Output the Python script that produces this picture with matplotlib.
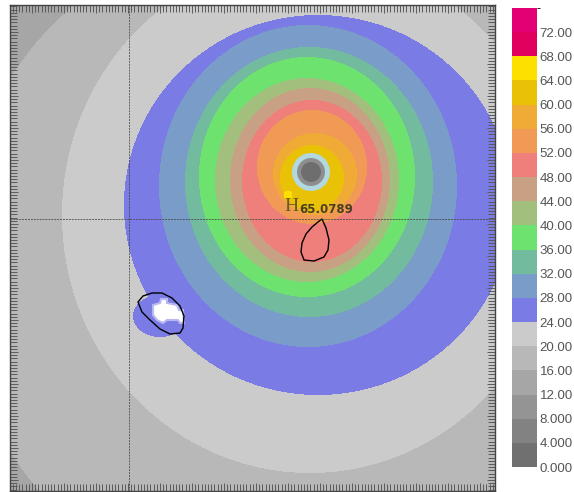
import numpy as np
import matplotlib
matplotlib.use('Agg')
import matplotlib.pyplot as plt
from matplotlib.colors import ListedColormap, BoundaryNorm
from matplotlib.cm import ScalarMappable
from matplotlib.patches import Circle, Polygon
from matplotlib.ticker import MultipleLocator

# colour scale: 4 dB steps from 0 to 76
levels = np.arange(0, 80, 4)
band_colors = ['#707070', '#828282', '#949494', '#a6a6a6', '#b8b8b8', '#cbcbcb',
               '#7b7be6', '#7a9cc9', '#72bb9e', '#6ee26e', '#a2bf7e', '#c8a083',
               '#ef7f7a', '#f09a55', '#efab35', '#e9c208', '#fde000', '#e2005f',
               '#e20074']
tick_values = np.arange(0, 76, 4)
tick_labels = ['0.000', '4.000', '8.000', '12.00', '16.00', '20.00', '24.00',
               '28.00', '32.00', '36.00', '40.00', '44.00', '48.00', '52.00',
               '56.00', '60.00', '64.00', '68.00', '72.00']

# coverage contours as ellipses (level, centre, half axes) in map units
ring_level = [16, 20, 24, 28, 32, 36, 40, 44, 48, 52, 56, 60]
ring_cx = [300, 310, 318, 308, 309, 307, 307, 310, 312, 312, 315, 312]
ring_cy = [265, 215, 205, 186, 182, 177, 180, 180, 181, 167, 174, 178]
ring_rx = [345, 248, 194, 149, 124, 108, 92, 80, 70, 55, 42, 32]
ring_ry = [345, 258, 190, 161, 135, 120, 102, 92, 81, 57, 41, 33]
base_value = 14

# small secondary lobe near the western site
lobe_level = [24]
lobe_cx = [160]
lobe_cy = [316]
lobe_rx = [27]
lobe_ry = [21]

# transmitter and maximum
site_x, site_y = 311, 172
peak_x, peak_y = 288, 195
peak_value = 65.0789

# map extent and cursor lines
x_min, x_max, y_min, y_max = 10, 495, 5, 491
cursor_x, cursor_y = 129, 219

# outlined areas
area1_x = [322, 326, 329, 328, 324, 314, 304, 301, 302, 306, 312, 318]
area1_y = [219, 228, 240, 250, 257, 261, 260, 252, 243, 234, 227, 222]
area2_x = [138, 143, 152, 162, 172, 180, 184, 183, 180, 170, 160, 150, 142]
area2_y = [302, 296, 293, 293, 298, 306, 316, 328, 333, 334, 329, 320, 312]
blank_x = [153, 160, 161, 167, 167, 177, 179, 183, 184, 180, 178, 167, 163, 157, 153]
blank_y = [305, 303, 299, 299, 303, 305, 310, 310, 323, 323, 320, 320, 323, 320, 315]

cmap = ListedColormap(band_colors)
norm = BoundaryNorm(levels, cmap.N)

xs = np.arange(x_min, x_max) + 0.5
ys = np.arange(y_min, y_max) + 0.5
X, Y = np.meshgrid(xs, ys)
field = np.full(X.shape, float(base_value))
for lev, cx, cy, rx, ry in zip(ring_level, ring_cx, ring_cy, ring_rx, ring_ry):
    field[((X - cx) / rx) ** 2 + ((Y - cy) / ry) ** 2 <= 1] = lev + 2
for lev, cx, cy, rx, ry in zip(lobe_level, lobe_cx, lobe_cy, lobe_rx, lobe_ry):
    inside = ((X - cx) / rx) ** 2 + ((Y - cy) / ry) ** 2 <= 1
    field[inside] = np.maximum(field[inside], lev + 2)
field[(X - peak_x) ** 2 + (Y - peak_y) ** 2 <= 20] = peak_value

fig = plt.figure(figsize=(5.74, 4.92), dpi=100)
W, H = 574, 492
ax = fig.add_axes([x_min / W, 1 - y_max / H, (x_max - x_min) / W, (y_max - y_min) / H])
ax.imshow(field, cmap=cmap, norm=norm, extent=(x_min, x_max, y_max, y_min),
          interpolation='nearest', aspect='auto')
ax.set_xlim(x_min, x_max)
ax.set_ylim(y_max, y_min)

# transmitter marker
ax.add_patch(Circle((site_x, site_y), 19, fc='#b2d8e0', ec='none'))
ax.add_patch(Circle((site_x, site_y), 14, fc='#8e8e8e', ec='none'))
ax.add_patch(Circle((site_x, site_y), 10, fc='#6e6e6e', ec='none'))

# blank (no data) patch and outlines
ax.add_patch(Polygon(np.column_stack([blank_x, blank_y]), fc='white', ec='#b8b8f4', lw=1.5))
ax.add_patch(Polygon(np.column_stack([area1_x, area1_y]), fill=False, ec='black', lw=1.0))
ax.add_patch(Polygon(np.column_stack([area2_x, area2_y]), fill=False, ec='black', lw=1.0))

# cursor
ax.axhline(cursor_y, color='#444444', lw=0.7, ls=(0, (2, 1)), alpha=0.8)
ax.axvline(cursor_x, color='#444444', lw=0.7, ls=(0, (2, 1)), alpha=0.8)

# maximum label
ax.text(peak_x - 4, peak_y + 16, 'H', family='Liberation Serif', fontsize=14,
        color='#6b5a1e', va='baseline', ha='left')
ax.text(peak_x + 11, peak_y + 18, f'{peak_value:.4f}', family='DejaVu Sans',
        fontweight='bold', fontsize=8.5, color='#4a4020', va='baseline', ha='left')

# ruler-style frame
ax.xaxis.set_major_locator(MultipleLocator(32))
ax.yaxis.set_major_locator(MultipleLocator(32))
ax.xaxis.set_minor_locator(MultipleLocator(3.2))
ax.yaxis.set_minor_locator(MultipleLocator(3.2))
ax.tick_params(which='both', direction='in', top=True, right=True, bottom=True, left=True,
               labelbottom=False, labelleft=False, color='#5a5a5a', width=0.7)
ax.tick_params(which='major', length=6)
ax.tick_params(which='minor', length=5)
for sp in ax.spines.values():
    sp.set_color('#444444')
    sp.set_linewidth(1.0)

# colour bar
cax = fig.add_axes([512 / W, 1 - 467 / H, 25 / W, 459 / H])
cb = fig.colorbar(ScalarMappable(norm=norm, cmap=cmap), cax=cax, ticks=tick_values)
cb.set_ticklabels(tick_labels)
cb.outline.set_visible(False)
cax.tick_params(length=0, pad=2, labelsize=9.5, labelcolor='#555555')
for t in cax.get_yticklabels():
    t.set_family('Liberation Sans')

fig.savefig('out.png', dpi=100)
